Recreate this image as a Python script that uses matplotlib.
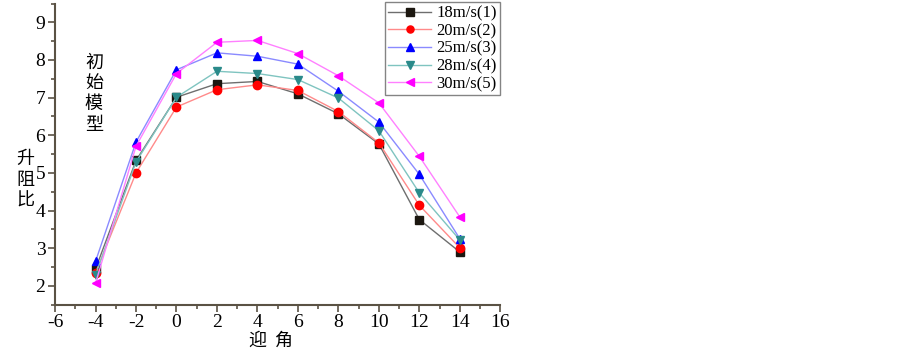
import numpy as np
import matplotlib
matplotlib.use("Agg")
import matplotlib.pyplot as plt
from matplotlib.ticker import MultipleLocator

plt.rcParams['font.family'] = ['Liberation Serif', 'DejaVu Serif']
plt.rcParams['axes.unicode_minus'] = False

# angle of attack
x = [-4, -2, 0, 2, 4, 6, 8, 10, 12, 14]

v18 = [2.45, 5.33, 7.01, 7.37, 7.43, 7.10, 6.57, 5.77, 3.76, 2.90]
v20 = [2.35, 5.00, 6.75, 7.21, 7.34, 7.19, 6.63, 5.80, 4.14, 3.01]
v25 = [2.65, 5.82, 7.74, 8.19, 8.10, 7.89, 7.17, 6.35, 4.96, 3.25]
v28 = [2.29, 5.29, 7.01, 7.70, 7.64, 7.48, 6.99, 6.12, 4.47, 3.22]
v30 = [2.07, 5.71, 7.64, 8.47, 8.52, 8.17, 7.58, 6.86, 5.44, 3.83]

labels = ['18m/s(1)', '20m/s(2)', '25m/s(3)', '28m/s(4)', '30m/s(5)']
series = [v18, v20, v25, v28, v30]
markers = ['s', 'o', '^', 'v', '<']
mcolors = ['#1c1710', '#ff0000', '#0000ff', '#2a8a8a', '#ff00ff']
lcolors = ['#6e6e6e', '#ff8a8a', '#8a8aff', '#7fc4c0', '#ff80ff']

fig = plt.figure(figsize=(9.03, 3.53), dpi=100)
ax = fig.add_axes([0.061, 0.137, 0.493, 0.853])

for ys, lab, m, mc, lc in zip(series, labels, markers, mcolors, lcolors):
    ax.plot(x, ys, color=lc, lw=1.0, marker=m, ms=6, mfc=mc, mec=mc, label=lab)

ax.set_xlim(-6, 16)
ax.set_ylim(1.5, 9.5)
ax.xaxis.set_major_locator(MultipleLocator(2))
ax.xaxis.set_minor_locator(MultipleLocator(1))
ax.yaxis.set_major_locator(MultipleLocator(1))
ax.yaxis.set_minor_locator(MultipleLocator(0.5))

spine_c = '#5a5244'
for s in ['top', 'right']:
    ax.spines[s].set_visible(False)
for s in ['left', 'bottom']:
    ax.spines[s].set_color(spine_c)
    ax.spines[s].set_linewidth(1.5)
ax.tick_params(which='major', direction='out', length=5, width=1.2, color=spine_c,
               labelsize=14, pad=2)
ax.tick_params(which='minor', direction='out', length=3, width=1.2, color=spine_c)

cjk = ['Noto Sans CJK SC', 'DejaVu Sans']
fig.text(0.018, 0.49, '升\n阻\n比', family=cjk, fontsize=13, ha='left', va='center',
         linespacing=1.2)
fig.text(0.094, 0.735, '初\n始\n模\n型', family=cjk, fontsize=13, ha='left', va='center',
         linespacing=1.2)
fig.text(0.3, 0.035, '迎  角', family=cjk, fontsize=13, ha='center', va='center')

leg = ax.legend(loc='upper left', bbox_to_anchor=(0.74, 1.005), fontsize=12,
                frameon=True, fancybox=False, borderpad=0.2, labelspacing=0.1,
                handlelength=2.6, handletextpad=0.3, borderaxespad=0.0,
                markerscale=0.85)
leg.get_frame().set_edgecolor('#666666')
leg.get_frame().set_linewidth(1.0)

fig.savefig('out.png', dpi=100)
